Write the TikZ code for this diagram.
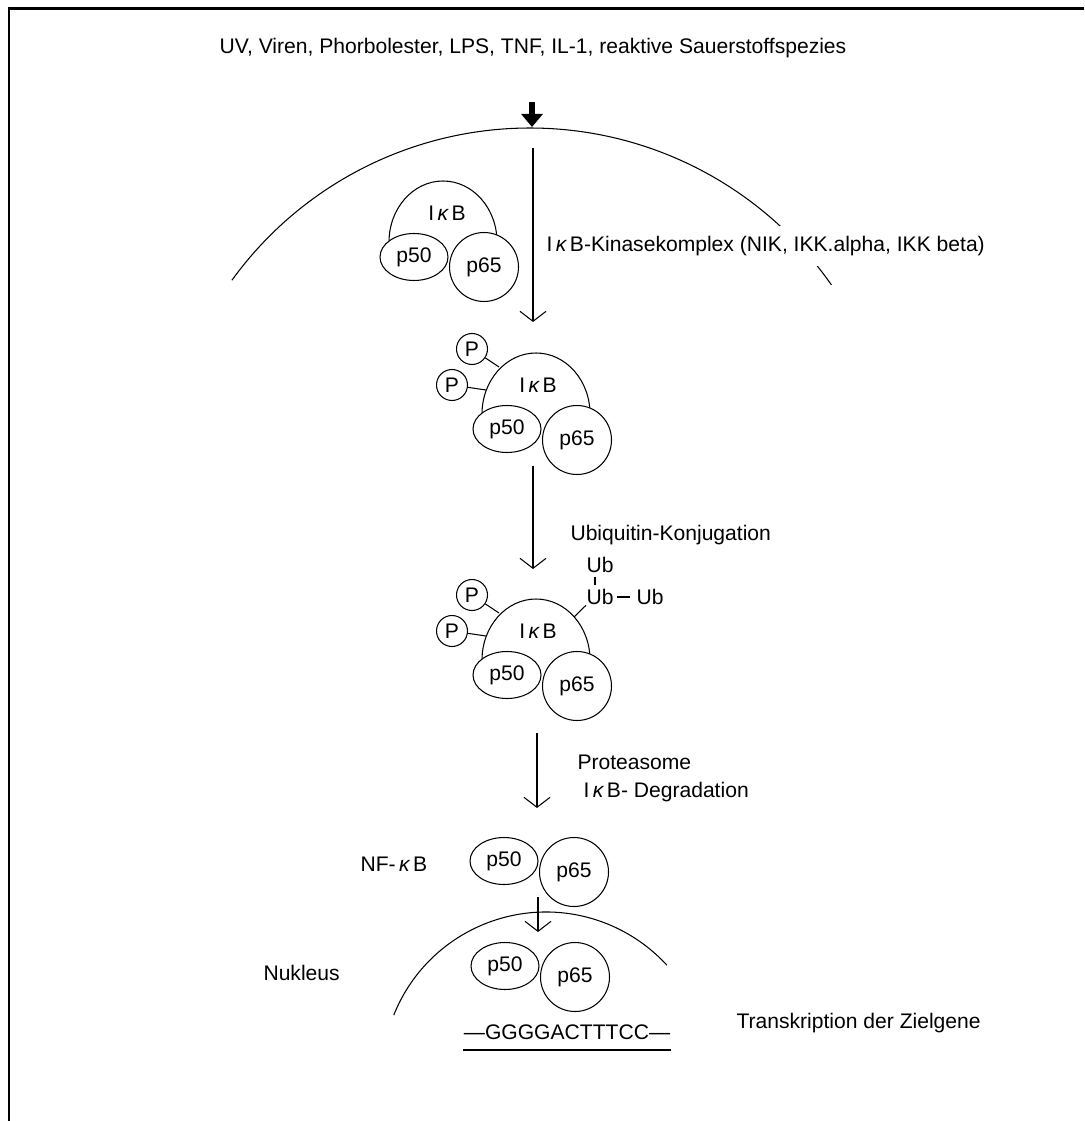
\documentclass[tikz,border=0pt]{standalone}
\usepackage{fontspec}
\setmainfont{Liberation Sans}
\usepackage{tikz}
\usetikzlibrary{shapes.geometric,arrows.meta}
\newcommand{\kap}{{\itshape κ}}

\begin{document}
\begin{tikzpicture}[
                    x  = {(0.02cm,0cm)},
                    y  = {(0cm,-0.02cm)},
                    line width = 0.6pt,
                    every node/.style = {font=\fontsize{12}{14}\selectfont, inner sep=0pt},
                    pfz/.style  = {draw, ellipse, fill=white, minimum width=1.36cm, minimum height=0.94cm},
                    pfs/.style  = {draw, circle, fill=white, minimum size=1.38cm},
                    phos/.style = {draw, circle, fill=white, minimum size=0.62cm},
                    flow/.style = {-{Straight Barb[length=0.2cm,width=0.52cm]}},
                    cover/.style = {anchor=west, fill=white, inner ysep=0.2cm}]

\useasboundingbox (0,0) rectangle (1084,1121);

%frame
\draw [line width=0.06cm] (1084,9) -- (9,9) -- (9,1121);

%stimuli
\node (stim) at (533,48) {UV, Viren, Phorbolester, LPS, TNF, IL-1, reaktive Sauerstoffspezies};
\coordinate (sigtop) at (532,102);
\coordinate (sigtip) at (532,127);
\draw [line width=0.12cm, -{Triangle[length=0.26cm,width=0.42cm]}] (sigtop) -- (sigtip);

%cell membrane
\coordinate (cell) at (530,496);
\draw (cell) ++(215.9:368) arc [start angle=215.9, end angle=325, radius=368];
\node [cover] (ikk) at (546,246) {I\,\kap\,B-Kinasekomplex (NIK, IKK.alpha, IKK beta)};

%first complex
\begin{scope}[shift={(414,257)}]
\draw (-25,-15) arc [start angle=180, end angle=360, x radius=54, y radius=61];
\node (ikb1) at (33,-44) {I\,\kap\,B};
\node [pfz] (p50a) at (0,0) {p50};
\node [pfs] (p65a) at (70,10) {p65};
\end{scope}

%phosphorylation
\coordinate (a1s) at (533,148);
\coordinate (a1e) at (533,322);
\draw [flow] (a1s) -- (a1e);

%second complex
\begin{scope}[shift={(507,429)}]
\draw (-25,-15) arc [start angle=180, end angle=360, x radius=54, y radius=61];
\coordinate (dk2a) at (-8,-62);
\coordinate (dk2b) at (-21,-39);
\node (ikb2) at (31,-44) {I\,\kap\,B};
\node [pfz] (p50b) at (0,0) {p50};
\node [pfs] (p65b) at (70,11) {p65};
\node [phos] (pa2) at (-35,-80) {P};
\node [phos] (pb2) at (-55,-44) {P};
\draw (pa2) -- (dk2a);
\draw (pb2) -- (dk2b);
\end{scope}

%ubiquitination
\coordinate (a2s) at (533,466);
\coordinate (a2e) at (533,569);
\draw [flow] (a2s) -- (a2e);
\node [anchor=west] (ubk) at (570,535) {Ubiquitin-Konjugation};

%third complex
\begin{scope}[shift={(507,675)}]
\draw (-25,-15) arc [start angle=180, end angle=360, x radius=54, y radius=61];
\coordinate (dk3a) at (-8,-62);
\coordinate (dk3b) at (-21,-39);
\coordinate (dk3c) at (67,-58);
\node (ikb3) at (31,-44) {I\,\kap\,B};
\node [pfz] (p50c) at (0,0) {p50};
\node [pfs] (p65c) at (70,11) {p65};
\node [phos] (pa3) at (-35,-80) {P};
\node [phos] (pb3) at (-55,-44) {P};
\draw (pa3) -- (dk3a);
\draw (pb3) -- (dk3b);
\node (ub1) at (93,-110) {Ub};
\node (ub2) at (93,-78) {Ub};
\node (ub3) at (143,-78) {Ub};
\draw (dk3c) -- (ub2.south west);
\draw [shorten <=0.08cm, shorten >=0.08cm] ([xshift=-0.1cm]ub1.south) -- ([xshift=-0.1cm]ub2.north);
\draw [shorten <=0.06cm, shorten >=0.12cm] (ub2) -- (ub3);
\end{scope}

%degradation
\coordinate (a3s) at (537,733);
\coordinate (a3e) at (537,808);
\draw [flow] (a3s) -- (a3e);
\node [anchor=west] (prot) at (577,762) {Proteasome};
\node [anchor=west] (degr) at (583,792) {I\,\kap\,B- Degradation};

%free NF-kB
\node [anchor=west] (nfkb) at (360,864) {NF-\,\kap\,B};
\node [pfz] (p50d) at (504,861) {p50};
\node [pfs] (p65d) at (574,872) {p65};

%translocation
\coordinate (a4s) at (538,897);
\coordinate (a4e) at (538,932);
\draw [flow] (a4s) -- (a4e);

%nucleus
\coordinate (nuc) at (546,1076);
\draw (nuc) ++(201.8:164) arc [start angle=201.8, end angle=317.5, radius=164];
\node [anchor=west] (nukl) at (263,973) {Nukleus};
\node [pfz] (p50e) at (505,966) {p50};
\node [pfs] (p65e) at (575,977) {p65};
\node (dna) at (567,1032) {—GGGGACTTTCC—};
\draw [line width=0.04cm] ([yshift=-0.2cm]dna.south west) -- ([yshift=-0.2cm]dna.south east);
\node [anchor=west] (trans) at (736,1023) {Transkription der Zielgene};

\end{tikzpicture}
\end{document}
